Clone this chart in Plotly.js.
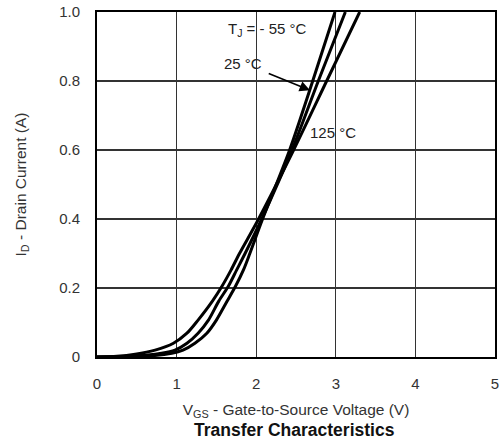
<!DOCTYPE html>
<html>
<head>
<meta charset="utf-8">
<script src="https://cdn.plot.ly/plotly-3.0.1.min.js"></script>
<style>html,body{margin:0;padding:0;background:#fff;}#chart{width:502px;height:444px;}</style>
</head>
<body>
<div id="chart"></div>
<script>
// Gate-to-source voltage (V) and drain current (A), per junction temperature
var vgsM55 = [0, 0.6, 0.94, 1.08, 1.23, 1.38, 1.50, 1.63, 1.74, 1.84, 1.92, 2.08, 2.42, 2.71, 2.99];
var idM55  = [0, 0.002, 0.011, 0.02, 0.04, 0.069, 0.107, 0.16, 0.205, 0.2525, 0.30, 0.40, 0.6, 0.8, 1.0];
var vgs25  = [0, 0.4, 0.81, 0.98, 1.13, 1.27, 1.40, 1.53, 1.65, 1.755, 1.86, 2.07, 2.45, 2.78, 3.12];
var id25   = [0, 0.002, 0.011, 0.02, 0.04, 0.069, 0.107, 0.162, 0.205, 0.2525, 0.30, 0.40, 0.6, 0.8, 1.0];
var vgs125 = [0, 0.25, 0.48, 0.73, 0.96, 1.13, 1.27, 1.45, 1.57, 1.685, 1.79, 2.03, 2.47, 2.885, 3.30];
var id125  = [0, 0.002, 0.008, 0.02, 0.04, 0.069, 0.107, 0.162, 0.205, 0.2525, 0.30, 0.40, 0.6, 0.8, 1.0];

var xTicks = [0, 1, 2, 3, 4, 5];
var xTickText = ["0", "1", "2", "3", "4", "5"];
var yTicks = [0, 0.2, 0.4, 0.6, 0.8, 1.0];
var yTickText = ["0", "0.2", "0.4", "0.6", "0.8", "1.0"];

var FONT = "Liberation Sans, Arial, sans-serif";
function curve(x, y, name) {
  return {x: x, y: y, name: name, type: "scatter", mode: "lines",
          line: {color: "#000", width: 3, shape: "spline", smoothing: 0.8},
          hoverinfo: "x+y+name"};
}
var data = [
  curve(vgsM55, idM55, "T_J = -55 °C"),
  curve(vgs25, id25, "25 °C"),
  curve(vgs125, id125, "125 °C")
];

var layout = {
  width: 502, height: 444,
  margin: {l: 97, r: 7, t: 12, b: 87},
  paper_bgcolor: "#fff", plot_bgcolor: "#fff",
  showlegend: false,
  font: {family: FONT, color: "#333"},
  xaxis: {
    range: [0, 5], tickvals: xTicks, ticktext: xTickText,
    showgrid: true, gridcolor: "#333", gridwidth: 1.3,
    showline: true, linecolor: "#000", linewidth: 2, mirror: true,
    zeroline: false, ticks: "outside", ticklen: 12, tickcolor: "rgba(0,0,0,0)",
    tickfont: {size: 15, family: FONT, color: "#333"},
    title: {text: "V<sub>GS</sub> - Gate-to-Source Voltage (V)", standoff: 13,
            font: {size: 15.5, family: FONT, color: "#333"}},
    fixedrange: true
  },
  yaxis: {
    range: [0, 1.0], tickvals: yTicks, ticktext: yTickText,
    showgrid: true, gridcolor: "#333", gridwidth: 1.3,
    showline: true, linecolor: "#000", linewidth: 2, mirror: true,
    zeroline: false, ticks: "outside", ticklen: 12, tickcolor: "rgba(0,0,0,0)",
    tickfont: {size: 15, family: FONT, color: "#333"},
    title: {text: "I<sub>D</sub> - Drain Current (A)", standoff: 29,
            font: {size: 15.5, family: FONT, color: "#333"}},
    fixedrange: true
  },
  annotations: [
    {x: 2.14, y: 0.949, xref: "x", yref: "y", text: "T<sub>J</sub> = - 55 °C", showarrow: false,
     font: {size: 15, family: FONT, color: "#222"}, xanchor: "center", yanchor: "middle"},
    {x: 2.676, y: 0.773, xref: "x", yref: "y", ax: 1.83, ay: 0.852, axref: "x", ayref: "y",
     text: "25 °C", font: {size: 15, family: FONT, color: "#222"},
     showarrow: true, arrowhead: 2, arrowsize: 1.3, arrowwidth: 1.6, arrowcolor: "#000", startstandoff: 6},
    {x: 2.96, y: 0.65, xref: "x", yref: "y", text: "125 °C", showarrow: false,
     font: {size: 15, family: FONT, color: "#222"}, xanchor: "center", yanchor: "middle"},
    {x: 0.495, y: -0.213, xref: "paper", yref: "paper", text: "<b>Transfer Characteristics</b>",
     showarrow: false, font: {size: 17.5, family: FONT, color: "#111"}, xanchor: "center", yanchor: "middle"}
  ]
};

Plotly.newPlot("chart", data, layout, {staticPlot: true, displayModeBar: false});
</script>
</body>
</html>
